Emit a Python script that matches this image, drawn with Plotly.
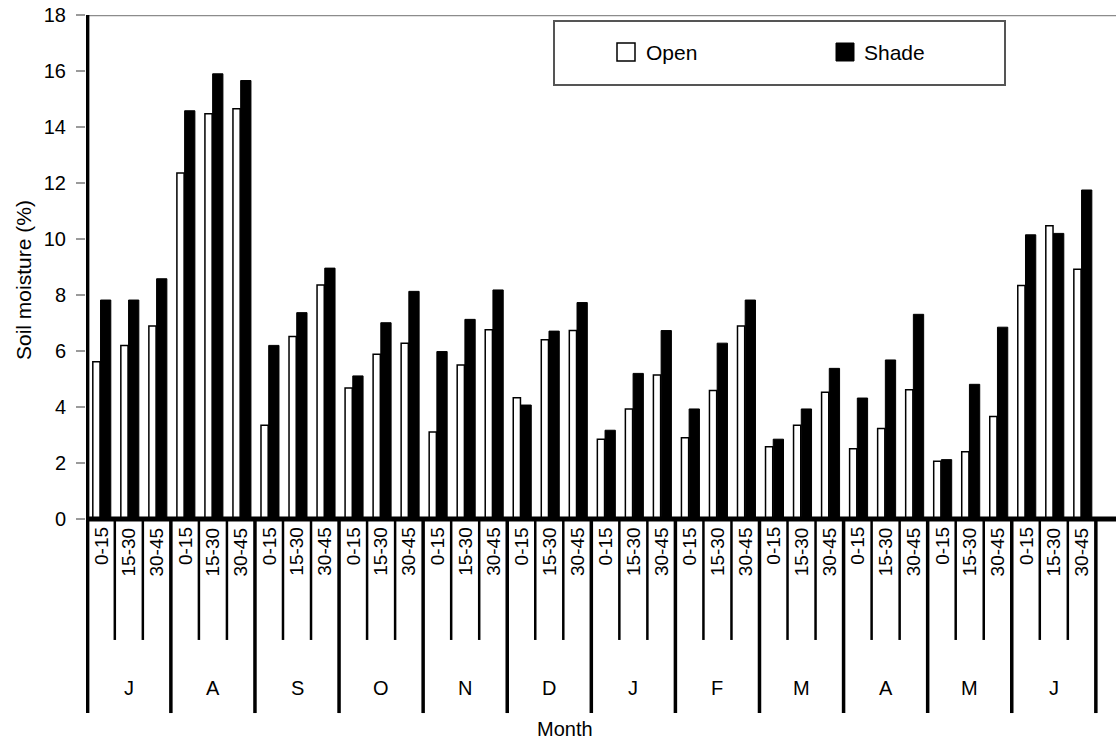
import plotly.graph_objects as go

# ---------------- data ----------------
months = ["J", "A", "S", "O", "N", "D", "J", "F", "M", "A", "M", "J"]
depths = ["0-15", "15-30", "30-45"]
open_vals = [5.62, 6.20, 6.89, 12.36, 14.47, 14.65, 3.35, 6.52, 8.36,
             4.68, 5.88, 6.28, 3.11, 5.50, 6.76, 4.33, 6.40, 6.73,
             2.85, 3.93, 5.14, 2.90, 4.59, 6.89, 2.58, 3.35, 4.53,
             2.51, 3.23, 4.62, 2.06, 2.40, 3.66, 8.34, 10.47, 8.92]
shade_vals = [7.82, 7.82, 8.58, 14.58, 15.90, 15.66, 6.20, 7.37, 8.96,
              5.11, 7.01, 8.13, 5.98, 7.13, 8.18, 4.07, 6.71, 7.73,
              3.17, 5.20, 6.73, 3.93, 6.28, 7.82, 2.85, 3.93, 5.38,
              4.32, 5.68, 7.31, 2.12, 4.81, 6.85, 10.15, 10.20, 11.75]
y_ticks = list(range(0, 19, 2))

n = len(open_vals)
idx = list(range(n))
cell_labels = [depths[i % 3] for i in idx]

FONT = "Liberation Sans, Arial, sans-serif"
W, H = 1116, 743
ML, MR, MT, MB = 86, 0, 15, 0


def px(X):
    return (X - ML) / (W - ML - MR)


def py(Y):
    return (H - MB - Y) / (H - MT - MB)


fig = go.Figure()
fig.add_trace(go.Bar(
    x=idx, y=open_vals, name="Open", width=0.257, offset=-0.285,
    marker=dict(color="white", line=dict(color="black", width=1.5)),
    showlegend=False))
fig.add_trace(go.Bar(
    x=idx, y=shade_vals, name="Shade", width=0.367, offset=-0.01,
    marker=dict(color="black", line=dict(color="black", width=1)),
    showlegend=False))

shapes = []
# top grey border at y=18
shapes.append(dict(type="line", xref="paper", yref="y", x0=0, x1=1, y0=18, y1=18,
                   line=dict(color="#8c8c8c", width=2.5)))
# y axis line
shapes.append(dict(type="line", xref="x", yref="y", x0=-0.47, x1=-0.47, y0=0, y1=18,
                   line=dict(color="black", width=3.5)))
# x axis line
shapes.append(dict(type="line", xref="x", yref="y", x0=-0.47, x1=36.3, y0=0, y1=0,
                   line=dict(color="black", width=5)))
# category table lines
for b in range(n + 1):
    xb = b - 0.5 if b > 0 else -0.47
    major = (b % 3 == 0)
    shapes.append(dict(type="line", xref="x", yref="y", x0=xb, x1=xb,
                       y0=0, y1=(-6.93 if major else -4.32),
                       line=dict(color="black", width=(3.5 if major else 2.5))))

# legend box (manual)
shapes.append(dict(type="rect", xref="paper", yref="paper",
                   x0=px(554), x1=px(1005), y0=py(85), y1=py(21),
                   line=dict(color="#555555", width=2), fillcolor="white"))
shapes.append(dict(type="rect", xref="paper", yref="paper",
                   x0=px(617), x1=px(635), y0=py(61), y1=py(43),
                   line=dict(color="black", width=1.5), fillcolor="white"))
shapes.append(dict(type="rect", xref="paper", yref="paper",
                   x0=px(836), x1=px(854), y0=py(61), y1=py(43),
                   line=dict(color="black", width=1), fillcolor="black"))

annotations = []
for i in idx:
    annotations.append(dict(x=i, y=-0.22, xref="x", yref="y", text=cell_labels[i],
                            textangle=-90, xanchor="center", yanchor="top",
                            showarrow=False, font=dict(family=FONT, size=19, color="black")))
for m, lab in enumerate(months):
    annotations.append(dict(x=3 * m + 1, y=-6.04, xref="x", yref="y", text=lab,
                            xanchor="center", yanchor="middle", showarrow=False,
                            font=dict(family=FONT, size=20, color="black")))
annotations.append(dict(x=px(565), y=py(729), xref="paper", yref="paper", text="Month",
                        xanchor="center", yanchor="middle", showarrow=False,
                        font=dict(family=FONT, size=20, color="black")))
annotations.append(dict(x=px(23), y=py(280), xref="paper", yref="paper",
                        text="Soil moisture (%)", textangle=-90,
                        xanchor="center", yanchor="middle", showarrow=False,
                        font=dict(family=FONT, size=21, color="black")))
annotations.append(dict(x=px(644), y=py(52), xref="paper", yref="paper", text="Open",
                        xanchor="left", yanchor="middle", showarrow=False,
                        font=dict(family=FONT, size=21, color="black")))
annotations.append(dict(x=px(862), y=py(52), xref="paper", yref="paper", text="Shade",
                        xanchor="left", yanchor="middle", showarrow=False,
                        font=dict(family=FONT, size=21, color="black")))

fig.update_layout(
    width=W, height=H,
    margin=dict(l=ML, r=MR, t=MT, b=MB, pad=0, autoexpand=False),
    paper_bgcolor="white", plot_bgcolor="white",
    barmode="overlay",
    showlegend=False,
    hovermode=False,
    shapes=shapes,
    annotations=annotations,
    xaxis=dict(range=[-0.528, 36.219], showline=False, showgrid=False, zeroline=False,
               showticklabels=False, ticks="", fixedrange=True),
    yaxis=dict(range=[-8.0, 18.0], tickvals=y_ticks, ticktext=[str(v) for v in y_ticks],
               showline=False, showgrid=False, zeroline=False, fixedrange=True,
               ticks="outside", ticklen=9, tickwidth=1.5, tickcolor="#9a9a9a",
               ticklabelstandoff=6,
               tickfont=dict(family=FONT, size=20, color="black")),
)

fig.write_html("out.html",
               config={"displayModeBar": False, "staticPlot": True},
               post_script="document.body.style.margin='0';document.body.style.overflow='hidden';")
